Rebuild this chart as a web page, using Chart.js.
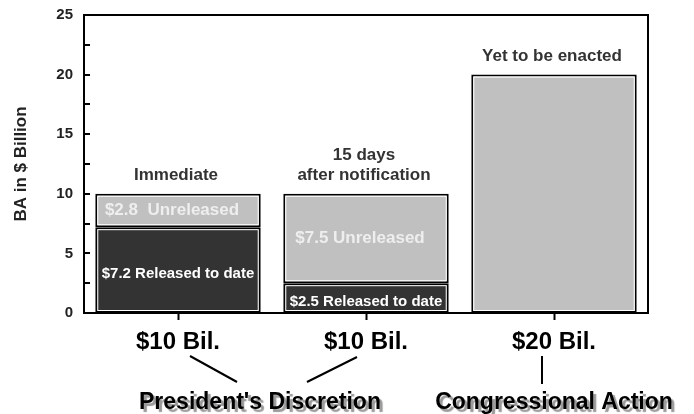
<!DOCTYPE html>
<html>
<head>
<meta charset="utf-8">
<script src="https://cdn.jsdelivr.net/npm/chart.js@4"></script>
<style>
  html, body { margin: 0; padding: 0; background: #fff; }
  #wrap { width: 694px; height: 414px; }
</style>
</head>
<body>
<div id="wrap"><canvas id="chart" width="694" height="414"></canvas></div>
<script>
// Data
const categories = ['$10 Bil.', '$10 Bil.', '$20 Bil.'];
const released = [7.2, 2.5, null];
const unreleased = [2.8, 7.5, 20];
const releasedLabels = ['$7.2 Released to date', '$2.5 Released to date', ''];
const unreleasedLabels = ['$2.8  Unreleased', '$7.5 Unreleased', ''];
const topNotes = [['Immediate'], ['15 days', 'after notification'], ['Yet to be enacted']];
const groupLabels = ["President's Discretion", 'Congressional Action'];
const yMax = 25;
const yStep = 2.5;
const yLabelStep = 5;

const FONT = 'Liberation Sans, Arial, Helvetica, sans-serif';

// Box on top and right, inward ticks on the y axis
const framePlugin = {
    id: 'frame',
    afterDraw(chart) {
        const { ctx, chartArea: a } = chart;
        const y = chart.scales.y;
        ctx.save();
        ctx.strokeStyle = '#000';
        ctx.lineWidth = 2;
        ctx.beginPath();
        ctx.moveTo(a.left, a.top);
        ctx.lineTo(a.right, a.top);
        ctx.lineTo(a.right, a.bottom);
        ctx.stroke();
        y.ticks.forEach(t => {
            const py = Math.round(y.getPixelForValue(t.value));
            ctx.beginPath();
            ctx.moveTo(a.left, py);
            ctx.lineTo(a.left + 6, py);
            ctx.stroke();
        });
        ctx.restore();
    }
};

// White inner line in every bar segment, plus the labels
const barTextPlugin = {
    id: 'barText',
    afterDatasetsDraw(chart) {
        const { ctx } = chart;
        ctx.save();
        chart.data.datasets.forEach((ds, di) => {
            chart.getDatasetMeta(di).data.forEach((bar, i) => {
                if (ds.data[i] == null) return;
                const p = bar.getProps(['x', 'y', 'base', 'width'], true);
                const left = p.x - p.width / 2;
                const top = Math.min(p.y, p.base);
                const h = Math.abs(p.base - p.y);
                ctx.strokeStyle = '#fff';
                ctx.lineWidth = 1;
                ctx.strokeRect(left + 2.5, top + 2.5, p.width - 5, h - 5);
            });
        });

        const relMeta = chart.getDatasetMeta(0).data;
        const unMeta = chart.getDatasetMeta(1).data;
        ctx.textAlign = 'center';
        ctx.textBaseline = 'middle';
        releasedLabels.forEach((txt, i) => {
            if (!txt) return;
            const p = relMeta[i].getProps(['x', 'y', 'base'], true);
            ctx.fillStyle = '#fff';
            ctx.font = 'bold 15px ' + FONT;
            ctx.fillText(txt, p.x, (p.y + p.base) / 2 + 4);
        });
        unreleasedLabels.forEach((txt, i) => {
            if (!txt) return;
            const p = unMeta[i].getProps(['x', 'y', 'base'], true);
            ctx.fillStyle = '#eeeeee';
            ctx.font = 'bold 17px ' + FONT;
            ctx.fillText(txt, p.x - 6, (p.y + p.base) / 2);
        });

        ctx.fillStyle = '#333';
        ctx.font = 'bold 17px ' + FONT;
        ctx.textBaseline = 'alphabetic';
        topNotes.forEach((lines, i) => {
            const p = unMeta[i].getProps(['x', 'y'], true);
            lines.slice().reverse().forEach((ln, k) => {
                ctx.fillText(ln, p.x - 2, p.y - 14 - k * 20);
            });
        });
        ctx.restore();
    }
};

// Group labels under the axis with connector lines
const groupPlugin = {
    id: 'groups',
    afterDraw(chart) {
        const { ctx } = chart;
        const x = chart.scales.x;
        const xs = categories.map((c, i) => x.getPixelForValue(i));
        ctx.save();
        ctx.strokeStyle = '#000';
        ctx.lineWidth = 2;
        ctx.beginPath();
        ctx.moveTo(xs[0] + 12, 356); ctx.lineTo(xs[0] + 59, 382);
        ctx.moveTo(xs[1] - 9, 357); ctx.lineTo(xs[1] - 59, 382);
        ctx.moveTo(xs[2] - 12, 356); ctx.lineTo(xs[2] - 12, 384);
        ctx.stroke();

        ctx.font = 'bold 23px ' + FONT;
        ctx.textAlign = 'center';
        ctx.textBaseline = 'alphabetic';
        ctx.shadowColor = '#999';
        ctx.shadowOffsetX = 3;
        ctx.shadowOffsetY = 3;
        ctx.shadowBlur = 1;
        ctx.fillStyle = '#000';
        ctx.fillText(groupLabels[0], (xs[0] + xs[1]) / 2 - 12, 409);
        ctx.fillText(groupLabels[1], xs[2], 409);
        ctx.restore();
    }
};

new Chart(document.getElementById('chart'), {
    type: 'bar',
    data: {
        labels: categories,
        datasets: [
            {
                label: 'Released to date',
                data: released,
                backgroundColor: '#333333',
                borderColor: '#000',
                borderWidth: 2,
                borderSkipped: false,
            },
            {
                label: 'Unreleased',
                data: unreleased,
                backgroundColor: '#c0c0c0',
                borderColor: '#000',
                borderWidth: 2,
                borderSkipped: false,
            },
        ],
    },
    options: {
        responsive: false,
        animation: false,
        devicePixelRatio: 1,
        layout: { padding: { top: 15, right: 46, left: 0, bottom: 0 } },
        plugins: {
            legend: { display: false },
            tooltip: { enabled: false },
        },
        datasets: { bar: { barPercentage: 0.88, categoryPercentage: 1 } },
        scales: {
            x: {
                stacked: true,
                afterFit(scale) { scale.height = 101; },
                grid: {
                    drawOnChartArea: false,
                    offset: false,
                    tickLength: 7,
                    tickWidth: 2,
                    tickColor: '#000',
                },
                border: { display: true, color: '#000', width: 2 },
                ticks: {
                    color: '#000',
                    padding: 8,
                    font: { family: FONT, size: 24, weight: 'bold' },
                },
            },
            y: {
                stacked: true,
                min: 0,
                max: yMax,
                afterFit(scale) {
                    scale.width = 84;
                    scale.paddingTop = 0;
                    scale.paddingBottom = 0;
                },
                grid: { display: false, drawTicks: false },
                border: { display: true, color: '#000', width: 2 },
                ticks: {
                    stepSize: yStep,
                    autoSkip: false,
                    padding: 11,
                    color: '#222',
                    font: { family: FONT, size: 15, weight: 'bold' },
                    callback: v => (v % yLabelStep === 0 ? String(v) : ''),
                },
                title: {
                    display: true,
                    text: 'BA in $ Billion',
                    color: '#222',
                    padding: { top: 11, bottom: 0 },
                    font: { family: FONT, size: 17, weight: 'bold' },
                },
            },
        },
    },
    plugins: [framePlugin, barTextPlugin, groupPlugin],
});
</script>
</body>
</html>
